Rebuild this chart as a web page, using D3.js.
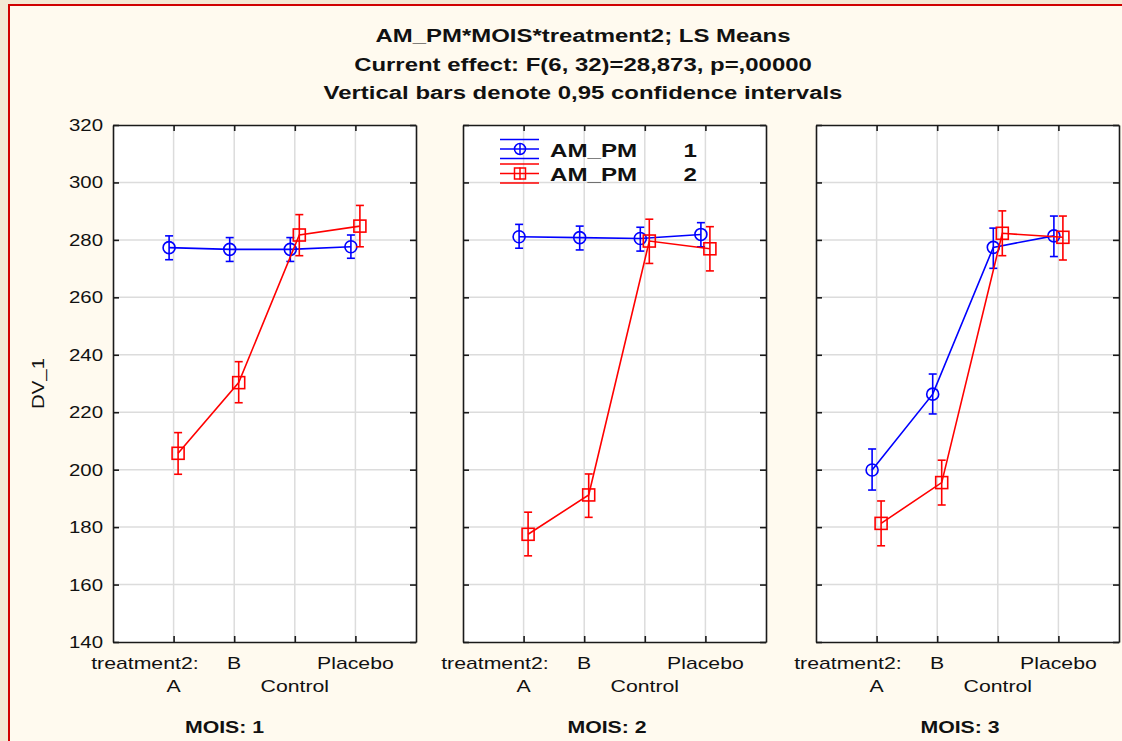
<!DOCTYPE html>
<html>
<head>
<meta charset="utf-8">
<script src="https://cdn.jsdelivr.net/npm/d3@7"></script>
<style>
  body { margin: 0; background: #f3e8d4; }
  svg { display: block; font-family: "Liberation Sans", Arial, sans-serif; }
</style>
</head>
<body>
<script>
// chart values
var groups = ["A", "B", "Control", "Placebo"];
var moisLevels = [1, 2, 3];
var yTicks = [140, 160, 180, 200, 220, 240, 260, 280, 300, 320];
var titleLines = [
  "AM_PM*MOIS*treatment2; LS Means",
  "Current effect: F(6, 32)=28,873, p=,00000",
  "Vertical bars denote 0,95 confidence intervals"
];

// AM_PM = 1 (blue), one row per MOIS
var am1Mean = [[277.3, 276.7, 276.7, 277.6], [281.1, 280.8, 280.5, 281.9], [199.9, 226.3, 277.4, 281.4]];
var am1Lo   = [[273.1, 272.5, 272.5, 273.6], [277.1, 276.5, 276.1, 277.6], [192.9, 219.4, 270.1, 274.2]];
var am1Hi   = [[281.4, 280.8, 280.8, 281.7], [285.4, 284.8, 284.4, 286.0], [207.2, 233.3, 284.1, 288.3]];
// AM_PM = 2 (red)
var am2Mean = [[205.7, 230.3, 281.7, 284.8], [177.5, 191.2, 279.6, 276.9], [181.3, 195.5, 282.3, 280.9]];
var am2Lo   = [[198.4, 223.3, 274.5, 277.6], [170.0, 183.4, 271.8, 269.2], [173.5, 187.7, 274.5, 273.0]];
var am2Hi   = [[212.9, 237.6, 288.8, 292.0], [185.2, 198.5, 287.2, 284.6], [189.1, 203.3, 290.1, 288.3]];

var svgWidth = 1122, svgHeight = 741;
var panelLeft = [113, 463, 816];
var panelW = 303;
var plotTop = 125, plotBottom = 642;
var stretch = 1.25; // the reference text is drawn wide

var svg = d3.select("body").append("svg")
  .attr("width", svgWidth)
  .attr("height", svgHeight);

// text drawn horizontally stretched
function wideText(parent, x, y, s) {
  return parent.append("text")
    .attr("transform", "translate(" + x + "," + y + ") scale(" + (s || stretch) + ",1)")
    .attr("fill", "#111");
}

// framed cream area with red border
svg.append("rect")
  .attr("x", 9).attr("y", 5)
  .attr("width", svgWidth + 20).attr("height", svgHeight + 20)
  .attr("fill", "#fffaef")
  .attr("stroke", "#d00000")
  .attr("stroke-width", 2);

// titles
titleLines.forEach(function(t, i) {
  wideText(svg, 583, 42 + i * 28.5, 1.26)
    .attr("text-anchor", "middle")
    .attr("font-size", "19px")
    .attr("font-weight", "bold")
    .text(t);
});

var y = d3.scaleLinear().domain([140, 320]).range([plotBottom, plotTop]);

// y axis label
svg.append("text")
  .attr("transform", "translate(44," + y(230) + ") rotate(-90) scale(1.2,1)")
  .attr("text-anchor", "middle")
  .attr("font-size", "17px")
  .attr("fill", "#111")
  .text("DV_1");

var series = [
  { mean: am1Mean, lo: am1Lo, hi: am1Hi, color: "#0000ff", shape: "circle", dx: -4.5 },
  { mean: am2Mean, lo: am2Lo, hi: am2Hi, color: "#ff0000", shape: "square", dx: 4.5 }
];

moisLevels.forEach(function(m, p) {
  var x0 = panelLeft[p], x1 = x0 + panelW;
  var x = d3.scaleLinear().domain([0, 5]).range([x0, x1]);
  var g = svg.append("g");

  g.append("rect")
    .attr("x", x0).attr("y", plotTop)
    .attr("width", panelW).attr("height", plotBottom - plotTop)
    .attr("fill", "#ffffff");

  // grid
  g.selectAll(".hgrid").data(yTicks.slice(1, -1)).enter().append("line")
    .attr("x1", x0).attr("x2", x1)
    .attr("y1", d => y(d)).attr("y2", d => y(d))
    .attr("stroke", "#dcdcdc").attr("stroke-width", 1.5);
  g.selectAll(".vgrid").data(groups).enter().append("line")
    .attr("x1", (d, i) => x(i + 1)).attr("x2", (d, i) => x(i + 1))
    .attr("y1", plotTop).attr("y2", plotBottom)
    .attr("stroke", "#dcdcdc").attr("stroke-width", 1.5);

  // axes with inward ticks
  var left = d3.axisLeft(y).tickValues(yTicks).tickSizeInner(-6).tickSizeOuter(0).tickPadding(0);
  if (p > 0) left.tickFormat("");
  g.append("g").attr("class", "ax yl").attr("transform", "translate(" + x0 + ",0)").call(left);
  g.append("g").attr("class", "ax").attr("transform", "translate(" + x1 + ",0)")
    .call(d3.axisRight(y).tickValues(yTicks).tickSizeInner(-6).tickSizeOuter(0).tickFormat(""));
  var catTicks = [1, 2, 3, 4];
  g.append("g").attr("class", "ax").attr("transform", "translate(0," + plotTop + ")")
    .call(d3.axisTop(x).tickValues(catTicks).tickSizeInner(-6).tickSizeOuter(0).tickFormat(""));
  g.append("g").attr("class", "ax").attr("transform", "translate(0," + plotBottom + ")")
    .call(d3.axisBottom(x).tickValues(catTicks).tickSizeInner(-6).tickSizeOuter(0).tickFormat(""));

  // category labels, staggered in two rows
  wideText(g, x(1) + 25, 669).attr("text-anchor", "end").attr("font-size", "17px").text("treatment2:");
  groups.forEach(function(d, i) {
    wideText(g, x(i + 1), i % 2 === 0 ? 692 : 669)
      .attr("text-anchor", "middle").attr("font-size", "17px").text(d);
  });

  // panel caption
  var cx = p === 0 ? (x0 - 80 + x1) / 2 : (x0 - 15 + x1) / 2;
  wideText(g, cx, 733).attr("text-anchor", "middle").attr("font-size", "17px")
    .attr("font-weight", "bold").text("MOIS: " + m);

  // series
  series.forEach(function(s) {
    var pts = groups.map(function(gname, i) {
      return { px: x(i + 1) + s.dx, mean: s.mean[p][i], lo: s.lo[p][i], hi: s.hi[p][i] };
    });
    g.append("path")
      .datum(pts)
      .attr("fill", "none")
      .attr("stroke", s.color)
      .attr("stroke-width", 1.6)
      .attr("d", d3.line().x(d => d.px).y(d => y(d.mean)));

    var eb = g.append("g").attr("stroke", s.color).attr("stroke-width", 1.6).attr("fill", "none");
    eb.selectAll(".v").data(pts).enter().append("line")
      .attr("x1", d => d.px).attr("x2", d => d.px)
      .attr("y1", d => y(d.lo)).attr("y2", d => y(d.hi));
    eb.selectAll(".ct").data(pts).enter().append("line")
      .attr("x1", d => d.px - 4).attr("x2", d => d.px + 4)
      .attr("y1", d => y(d.hi)).attr("y2", d => y(d.hi));
    eb.selectAll(".cb").data(pts).enter().append("line")
      .attr("x1", d => d.px - 4).attr("x2", d => d.px + 4)
      .attr("y1", d => y(d.lo)).attr("y2", d => y(d.lo));

    if (s.shape === "circle") {
      eb.selectAll(".m").data(pts).enter().append("circle")
        .attr("cx", d => d.px).attr("cy", d => y(d.mean)).attr("r", 6);
    } else {
      eb.selectAll(".m").data(pts).enter().append("rect")
        .attr("x", d => d.px - 6).attr("y", d => y(d.mean) - 6)
        .attr("width", 12).attr("height", 12);
    }
  });
});

svg.selectAll(".ax path, .ax line").attr("stroke", "#1a1a1a").attr("stroke-width", 1.6);
svg.selectAll(".yl text")
  .attr("x", null)
  .attr("transform", "translate(-10,0) scale(1.2,1)")
  .attr("font-size", "17px").attr("fill", "#111")
  .attr("font-family", "'Liberation Sans', Arial, sans-serif");

// legend inside the second panel
var legend = svg.append("g");
series.forEach(function(s, i) {
  var cy = 149 + i * 24.5;
  var lg = legend.append("g").attr("stroke", s.color).attr("stroke-width", 1.5).attr("fill", "none");
  [-9.5, 0, 9.5].forEach(function(o) {
    lg.append("line").attr("x1", 500).attr("x2", 539).attr("y1", cy + o).attr("y2", cy + o);
  });
  lg.append("line").attr("x1", 520).attr("x2", 520).attr("y1", cy - 6).attr("y2", cy + 6);
  if (s.shape === "circle") {
    lg.append("circle").attr("cx", 520).attr("cy", cy).attr("r", 5.5);
  } else {
    lg.append("rect").attr("x", 514.5).attr("y", cy - 5.5).attr("width", 11).attr("height", 11);
  }
  wideText(legend, 550, cy + 7.5, 1.27)
    .attr("font-size", "19px").attr("font-weight", "bold").text("AM_PM");
  wideText(legend, 697, cy + 7.5, 1.27)
    .attr("text-anchor", "end")
    .attr("font-size", "19px").attr("font-weight", "bold").text(i + 1);
});
</script>
</body>
</html>
